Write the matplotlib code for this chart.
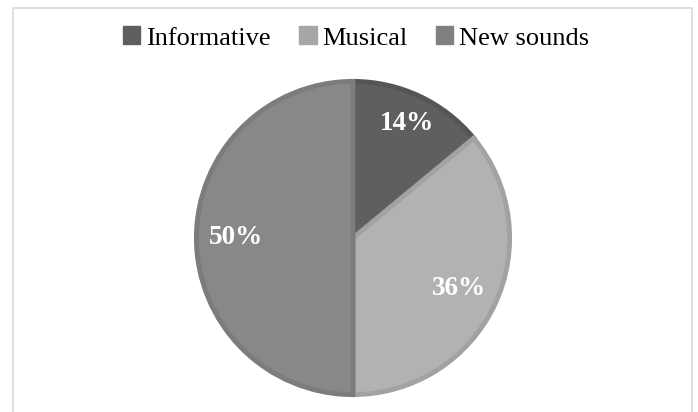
import matplotlib
matplotlib.use("Agg")
import matplotlib.pyplot as plt
from matplotlib.patches import Patch, Rectangle
import numpy as np

categories = ["Informative", "Musical", "New sounds"]
values = [14, 36, 50]
fill_colors = ["#5f5f5f", "#b2b2b2", "#888888"]
edge_colors = ["#555555", "#a2a2a2", "#7c7c7c"]
legend_colors = ["#5e5e5e", "#a6a6a6", "#808080"]

plt.rcParams['font.family'] = ['Liberation Serif', 'DejaVu Serif']

W, H = 698, 412
fig = plt.figure(figsize=(W / 100, H / 100), dpi=100)
fig.patch.set_facecolor("white")

# outer frame
fig.add_artist(Rectangle((12.5 / W, -0.05), (692 - 12.5) / W, 1 - 7.5 / H + 0.05,
                         transform=fig.transFigure, fill=False,
                         edgecolor="#d9d9d9", linewidth=1.2))

cx, cy, r = 353, 238, 159
ax = fig.add_axes([(cx - r) / W, (H - cy - r) / H, 2 * r / W, 2 * r / H])
wedges, texts, autotexts = ax.pie(values, colors=fill_colors, startangle=90,
                                  counterclock=False, radius=0.985,
                                  autopct=lambda p: f"{p:.0f}%", pctdistance=0.75,
                                  wedgeprops=dict(linewidth=3.5),
                                  textprops=dict(color="white", fontsize=19.5,
                                                 fontweight="bold"))
for w, ec in zip(wedges, edge_colors):
    w.set_edgecolor(ec)
# nudge first label outward like the reference
t0 = autotexts[0]
x0, y0 = t0.get_position()
t0.set_position((x0 * 0.81 / 0.75, y0 * 0.81 / 0.75))
ax.set_xlim(-1, 1)
ax.set_ylim(-1, 1)
ax.set_aspect("equal")

handles = [Patch(facecolor=c, edgecolor=c) for c in legend_colors]
fig.legend(handles, categories, loc="center", bbox_to_anchor=(356 / W, 1 - 38 / H),
           ncol=3, frameon=False, fontsize=19, handlelength=0.65, handleheight=0.65,
           handletextpad=0.2, columnspacing=1.1)

fig.savefig("out.png", dpi=100)
